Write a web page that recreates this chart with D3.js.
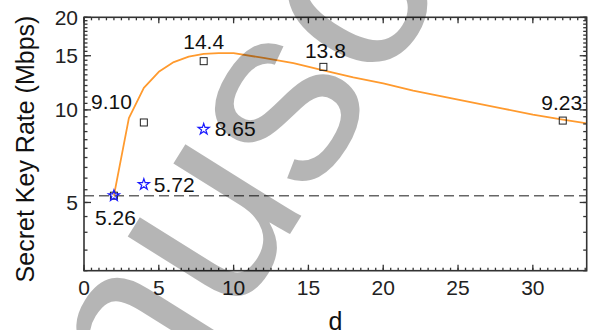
<!DOCTYPE html>
<html>
<head>
<meta charset="utf-8">
<script src="https://cdn.jsdelivr.net/npm/d3@7/dist/d3.min.js"></script>
<style>
  html, body { margin: 0; padding: 0; background: #fff; }
  svg { display: block; }
  text { font-family: "Liberation Sans", Arial, Helvetica, sans-serif; }
</style>
</head>
<body>
<svg id="chart" width="592" height="330"></svg>
<script>
// ---- data ----
const curveD    = [2, 3, 4, 5, 6, 7, 8, 9, 10, 12, 14, 16, 18, 20, 22, 24, 26, 28, 30, 32, 34];
const curveRate = [5.26, 9.4, 11.8, 13.3, 14.3, 14.9, 15.2, 15.3, 15.3, 14.75, 14.2, 13.45, 12.75, 12.2, 11.55, 11.05, 10.55, 10.1, 9.65, 9.3, 8.98];
const squareD    = [2, 4, 8, 16, 32];
const squareRate = [5.26, 9.10, 14.4, 13.8, 9.23];
const starD    = [2, 4, 8];
const starRate = [5.26, 5.72, 8.65];
const refRate = 5.26;
const labelText = ["5.26", "9.10", "14.4", "13.8", "9.23", "5.72", "8.65"];
const labelD    = [2, 4, 8, 16, 32, 4, 8];
const labelRate = [5.26, 9.10, 14.4, 13.8, 9.23, 5.72, 8.65];
const xTicks = [0, 5, 10, 15, 20, 25, 30];
const yTicks = [5, 10, 15, 20];
const xDomain = [0, 33.6];
const yDomain = [3, 20];

// ---- layout / style ----
const labelLayout = [
  {dx: 1.5, dy: 29.5, anchor: "middle"},
  {dx: -12, dy: -13, anchor: "end"},
  {dx: 0, dy: -12, anchor: "middle"},
  {dx: 2, dy: -9, anchor: "middle"},
  {dx: -1, dy: -11, anchor: "middle"},
  {dx: 10, dy: 8, anchor: "start"},
  {dx: 11, dy: 6.5, anchor: "start"}
];
const L = 84, R = 586.7, T = 17.3, B = 270.7;
const axisColor = "#333";

const svg = d3.select("#chart");
const x = d3.scaleLinear().domain(xDomain).range([L, R]);
const y = d3.scaleLog().domain(yDomain).range([B, T]);

svg.append("clipPath").attr("id", "plotclip")
  .append("rect").attr("x", L).attr("y", T).attr("width", R - L).attr("height", B - T);

const plot = svg.append("g").attr("clip-path", "url(#plotclip)");

// dashed reference line
plot.append("line")
  .attr("x1", L).attr("x2", R)
  .attr("y1", y(refRate)).attr("y2", y(refRate))
  .attr("stroke", "#666").attr("stroke-width", 1.5)
  .attr("stroke-dasharray", "10,5");

// orange curve
const curve = curveD.map((d, i) => [d, curveRate[i]]);
plot.append("path")
  .datum(curve)
  .attr("fill", "none")
  .attr("stroke", "#ff9a2e")
  .attr("stroke-width", 1.8)
  .attr("stroke-linejoin", "round")
  .attr("d", d3.line().x(d => x(d[0])).y(d => y(d[1])));

// squares
const sq = 7;
svg.append("g").selectAll("rect")
  .data(squareD.map((d, i) => [d, squareRate[i]]))
  .join("rect")
  .attr("x", d => x(d[0]) - sq / 2)
  .attr("y", d => y(d[1]) - sq / 2)
  .attr("width", sq).attr("height", sq)
  .attr("fill", "none").attr("stroke", "#222").attr("stroke-width", 1);

// stars
const star = d3.symbol().type(d3.symbolStar).size(38);
svg.append("g").selectAll("path")
  .data(starD.map((d, i) => [d, starRate[i]]))
  .join("path")
  .attr("transform", d => `translate(${x(d[0])},${y(d[1])})`)
  .attr("d", star)
  .attr("fill", "none").attr("stroke", "#1a1aff").attr("stroke-width", 1.2);

// labels
svg.append("g").selectAll("text")
  .data(labelText.map((t, i) => ({t, d: labelD[i], v: labelRate[i], l: labelLayout[i]})))
  .join("text")
  .attr("x", d => x(d.d) + d.l.dx)
  .attr("y", d => y(d.v) + d.l.dy)
  .attr("text-anchor", d => d.l.anchor)
  .attr("font-size", 21)
  .attr("fill", "#111")
  .text(d => d.t);

// axes with inward ticks on all sides
const xMinor = d3.range(0, 34, 0.5).filter(v => v <= xDomain[1]);
const yMinor = d3.range(3, 20.01, 0.5);
const ax = svg.append("g");

function tickLines(g, vals, len, side) {
  g.selectAll(null).data(vals).join("line")
    .attr("x1", d => side === "b" || side === "t" ? x(d) : (side === "l" ? L : R))
    .attr("x2", d => side === "b" || side === "t" ? x(d) : (side === "l" ? L + len : R - len))
    .attr("y1", d => side === "l" || side === "r" ? y(d) : (side === "b" ? B : T))
    .attr("y2", d => side === "l" || side === "r" ? y(d) : (side === "b" ? B - len : T + len))
    .attr("stroke", axisColor).attr("stroke-width", 1.3);
}
tickLines(ax, xMinor, 3, "b");
tickLines(ax, xMinor, 3, "t");
tickLines(ax, xTicks, 6, "b");
tickLines(ax, xTicks, 6, "t");
tickLines(ax, yMinor, 3.5, "l");
tickLines(ax, yMinor, 3.5, "r");
tickLines(ax, yTicks, 7, "l");
tickLines(ax, yTicks, 7, "r");

ax.append("rect").attr("x", L).attr("y", T).attr("width", R - L).attr("height", B - T)
  .attr("fill", "none").attr("stroke", axisColor).attr("stroke-width", 1.6);

ax.selectAll(null).data(xTicks).join("text")
  .attr("x", d => x(d)).attr("y", 295)
  .attr("text-anchor", "middle").attr("font-size", 21).attr("fill", "#222")
  .text(d => d);

ax.selectAll(null).data(yTicks).join("text")
  .attr("x", 78).attr("y", d => y(d) + 7.5)
  .attr("text-anchor", "end").attr("font-size", 21).attr("fill", "#222")
  .text(d => d);

svg.append("text").attr("x", (L + R) / 2).attr("y", 329.5)
  .attr("text-anchor", "middle").attr("font-size", 25).attr("fill", "#111").text("d");

svg.append("text")
  .attr("transform", "translate(34,149) rotate(-90)")
  .attr("text-anchor", "middle").attr("font-size", 25).attr("fill", "#111")
  .text("Secret Key Rate (Mbps)");

// watermark (semi-transparent, on top)
const F = 258;
svg.append("text")
  .attr("transform", "translate(265,165) rotate(-58)")
  .attr("x", -2.5275 * F).attr("y", 0.224 * F)
  .attr("font-family", "'Liberation Serif', 'Times New Roman', serif")
  .attr("font-size", F)
  .attr("fill", "#000").attr("fill-opacity", 0.29)
  .text("Manuscript");
</script>
</body>
</html>
